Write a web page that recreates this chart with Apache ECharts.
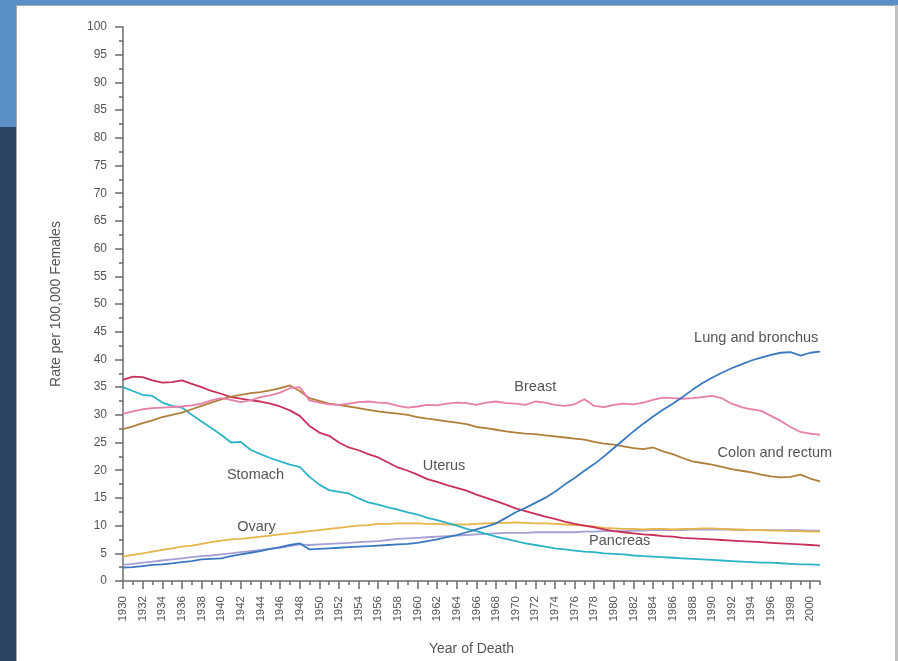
<!DOCTYPE html>
<html>
<head>
<meta charset="utf-8">
<script src="https://cdn.jsdelivr.net/npm/echarts@6/dist/echarts.min.js"></script>
<style>
  html, body { margin: 0; padding: 0; width: 898px; height: 661px; overflow: hidden; background: #5b8fc8; }
  #navy  { position: absolute; left: 0; top: 127px; width: 16px; height: 534px; background: #2c4462; }
  #panel { position: absolute; left: 16px; top: 5px; width: 879px; height: 656px; background: #ffffff;
           border-top: 1px solid #a4a9ad; border-left: 1px solid #a4a9ad; box-sizing: border-box; }
  #edge  { position: absolute; left: 895px; top: 5px; width: 3px; height: 656px; background: #c2c2c2; }
  #chart { position: absolute; left: 0; top: 0; width: 898px; height: 661px; }
</style>
</head>
<body>
<div id="navy"></div>
<div id="panel"></div>
<div id="edge"></div>
<div id="chart"></div>
<script>
// Cancer death rates among US women, per 100,000, by year of death 1930-2001
const years = Array.from({ length: 72 }, (_, i) => 1930 + i);
const xLabelYears = years.filter(y => y % 2 === 0);   // 1930, 1932, ... 2000

const lung = [
  2.4, 2.5, 2.7, 2.9, 3.0, 3.2, 3.4, 3.6, 3.9, 4.0,
  4.1, 4.5, 4.8, 5.1, 5.4, 5.8, 6.1, 6.5, 6.8, 5.7,
  5.8, 5.9, 6.0, 6.1, 6.2, 6.3, 6.4, 6.5, 6.6, 6.7,
  6.9, 7.2, 7.5, 7.9, 8.3, 8.8, 9.3, 9.8, 10.4, 11.4,
  12.4, 13.2, 14.1, 15.0, 16.1, 17.4, 18.6, 19.9, 21.1, 22.5,
  24.0, 25.5, 27.0, 28.4, 29.7, 30.9, 32.0, 33.2, 34.5, 35.7,
  36.7, 37.6, 38.4, 39.1, 39.8, 40.3, 40.8, 41.2, 41.3, 40.7,
  41.2, 41.4
];
const breast = [
  30.2, 30.6, 31.0, 31.2, 31.3, 31.4, 31.5, 31.7, 32.0, 32.6,
  33.0, 32.7, 32.3, 32.6, 33.2, 33.5, 34.0, 34.8, 35.0, 32.6,
  32.2, 31.9, 31.8, 32.0, 32.3, 32.4, 32.2, 32.1, 31.6, 31.3,
  31.5, 31.8, 31.7, 32.0, 32.2, 32.1, 31.8, 32.2, 32.4, 32.1,
  32.0, 31.8, 32.4, 32.2, 31.8, 31.6, 31.9, 32.8, 31.6, 31.4,
  31.8, 32.0, 31.9, 32.2, 32.7, 33.1, 33.0, 32.9, 33.0, 33.2,
  33.4, 33.0, 32.0, 31.4, 31.0, 30.7, 29.8, 28.9, 27.8, 26.9,
  26.6, 26.4
];
const colon = [
  27.4, 27.9, 28.5, 29.0, 29.6, 30.0, 30.4, 31.0, 31.6, 32.2,
  32.8, 33.3, 33.6, 33.9, 34.1, 34.4, 34.8, 35.3, 34.3, 33.0,
  32.5, 32.0, 31.8, 31.5, 31.2, 30.9, 30.6, 30.4, 30.2, 30.0,
  29.6, 29.3, 29.1, 28.8, 28.6, 28.3, 27.8, 27.6, 27.3, 27.0,
  26.8, 26.6, 26.5, 26.3, 26.1, 25.9, 25.7, 25.5, 25.1, 24.8,
  24.6, 24.3, 24.0, 23.8, 24.1, 23.4, 22.9, 22.2, 21.6, 21.3,
  21.0, 20.6, 20.2, 19.9, 19.6, 19.2, 18.9, 18.7, 18.8, 19.2,
  18.5, 18.0
];
const uterus = [
  36.3, 36.9, 36.8, 36.2, 35.8, 35.9, 36.2, 35.6, 35.0, 34.3,
  33.8, 33.2, 32.9, 32.6, 32.4, 32.0, 31.5, 30.8, 29.8, 28.0,
  26.8, 26.2, 25.0, 24.1, 23.6, 22.9, 22.3, 21.4, 20.5, 19.9,
  19.2, 18.4, 17.9, 17.3, 16.8, 16.3, 15.6, 15.0, 14.4, 13.8,
  13.1, 12.6, 12.1, 11.6, 11.2, 10.7, 10.3, 10.0, 9.7, 9.3,
  9.0, 8.8, 8.6, 8.4, 8.3, 8.1, 8.0, 7.8, 7.7, 7.6,
  7.5, 7.4, 7.3, 7.2, 7.1, 7.0, 6.9, 6.8, 6.7, 6.6,
  6.5, 6.4
];
const stomach = [
  35.0, 34.3, 33.6, 33.4, 32.2, 31.6, 31.3, 30.0, 28.8, 27.6,
  26.4, 25.0, 25.1, 23.7, 22.9, 22.2, 21.6, 21.0, 20.6, 18.8,
  17.4, 16.4, 16.1, 15.8, 14.9, 14.2, 13.8, 13.3, 12.9, 12.4,
  12.0, 11.4, 11.0, 10.5, 10.0, 9.4, 9.0, 8.5, 8.0, 7.6,
  7.2, 6.8, 6.5, 6.2, 5.9, 5.7, 5.5, 5.3, 5.2, 5.0,
  4.9, 4.8, 4.6, 4.5, 4.4, 4.3, 4.2, 4.1, 4.0, 3.9,
  3.8, 3.7, 3.6, 3.5, 3.4, 3.3, 3.3, 3.2, 3.1, 3.0,
  3.0, 2.9
];
const ovary = [
  4.4, 4.7, 5.0, 5.3, 5.6, 5.9, 6.2, 6.4, 6.7, 7.0,
  7.3, 7.5, 7.6, 7.8, 8.0, 8.2, 8.4, 8.6, 8.8, 9.0,
  9.2, 9.4, 9.6, 9.8, 10.0, 10.1, 10.3, 10.3, 10.4, 10.4,
  10.4, 10.3, 10.3, 10.2, 10.2, 10.2, 10.3, 10.4, 10.5, 10.5,
  10.6, 10.5, 10.4, 10.4, 10.3, 10.2, 10.1, 10.0, 9.8, 9.6,
  9.5, 9.4, 9.4, 9.3, 9.4, 9.4, 9.3, 9.4, 9.4, 9.5,
  9.5, 9.4, 9.3, 9.3, 9.2, 9.2, 9.1, 9.1, 9.0, 9.0,
  8.9, 8.9
];
const pancreas = [
  2.9, 3.1, 3.3, 3.5, 3.7, 3.9, 4.1, 4.3, 4.5, 4.6,
  4.8, 5.0, 5.2, 5.4, 5.6, 5.8, 6.0, 6.3, 6.6, 6.5,
  6.6, 6.7, 6.8, 6.9, 7.0, 7.1, 7.2, 7.4, 7.6, 7.7,
  7.8, 7.9, 8.0, 8.1, 8.2, 8.3, 8.4, 8.5, 8.6, 8.7,
  8.7, 8.7, 8.8, 8.8, 8.8, 8.8, 8.8, 8.9, 8.9, 9.0,
  9.0, 9.0, 9.1, 9.1, 9.2, 9.2, 9.2, 9.2, 9.3, 9.3,
  9.3, 9.3, 9.3, 9.2, 9.2, 9.2, 9.2, 9.2, 9.2, 9.2,
  9.1, 9.1
];

// Site names, line colours and where each name sits (in year / rate units)
const sites = [
  { name: 'Pancreas',          values: pancreas, color: '#a69fd6', at: [1980.6, 7.2] },
  { name: 'Ovary',             values: ovary,    color: '#e6b54a', at: [1943.6, 9.7] },
  { name: 'Stomach',           values: stomach,  color: '#2db3c6', at: [1943.5, 19.1] },
  { name: 'Uterus',            values: uterus,   color: '#c93059', at: [1962.7, 20.7] },
  { name: 'Colon and rectum',  values: colon,    color: '#b07f3c', at: [1996.4, 23.1] },
  { name: 'Breast',            values: breast,   color: '#e67fa9', at: [1972.0, 35.0] },
  { name: 'Lung and bronchus', values: lung,     color: '#3a79c0', at: [1994.5, 43.8] }
];

const font = "'Liberation Sans', Arial, Helvetica, sans-serif";
const axisGray = '#6b6b6b';
const textGray = '#555555';

const chart = echarts.init(document.getElementById('chart'), null, { renderer: 'canvas' });

chart.setOption({
  animation: false,
  backgroundColor: 'transparent',
  textStyle: { fontFamily: font },
  grid: { left: 123, right: 78, top: 27, bottom: 79, containLabel: false },
  xAxis: [
    {
      type: 'value', min: 1930, max: 2001, interval: 1,
      name: 'Year of Death', nameLocation: 'middle', nameGap: 61,
      nameTextStyle: { fontFamily: font, fontSize: 14, color: textGray },
      axisLine: { show: true, lineStyle: { color: axisGray, width: 1.5 } },
      axisTick: { show: true, length: 4, lineStyle: { color: axisGray, width: 1.5 } },
      axisLabel: {
        rotate: 90, margin: 15, fontFamily: font, fontSize: 11.5, color: textGray,
        formatter: v => (xLabelYears.indexOf(v) >= 0 ? String(v) : '')
      },
      splitLine: { show: false }
    },
    {
      // long ticks at labelled (even) years
      type: 'category', data: years.map(String), boundaryGap: false, position: 'bottom',
      axisLine: { show: false },
      axisTick: { show: true, interval: 1, length: 8, lineStyle: { color: axisGray, width: 1.5 } },
      axisLabel: { show: false },
      splitLine: { show: false }
    }
  ],
  yAxis: {
    type: 'value', min: 0, max: 100, interval: 5,
    name: 'Rate per 100,000 Females', nameLocation: 'middle', nameGap: 60, nameRotate: 90,
    nameTextStyle: { fontFamily: font, fontSize: 14, color: textGray },
    axisLine: { show: true, lineStyle: { color: axisGray, width: 1.5 } },
    axisTick: { show: true, length: 8, lineStyle: { color: axisGray, width: 1.5 } },
    minorTick: { show: true, splitNumber: 2, length: 4, lineStyle: { color: axisGray, width: 1.5 } },
    axisLabel: { margin: 16, fontFamily: font, fontSize: 12, color: textGray },
    splitLine: { show: false },
    minorSplitLine: { show: false }
  },
  series: sites.map(s => ({
    name: s.name,
    type: 'line',
    xAxisIndex: 0,
    data: years.map((y, i) => [y, s.values[i]]),
    symbol: 'none',
    smooth: false,
    lineStyle: { color: s.color, width: 1.8 },
    itemStyle: { color: s.color },
    markPoint: {
      symbol: 'circle', symbolSize: 1, silent: true,
      itemStyle: { color: 'transparent' },
      label: {
        show: true, position: 'inside', formatter: s.name,
        fontFamily: font, fontSize: 14.5, color: textGray
      },
      data: [{ coord: s.at, value: 0 }]
    }
  }))
});
</script>
</body>
</html>
